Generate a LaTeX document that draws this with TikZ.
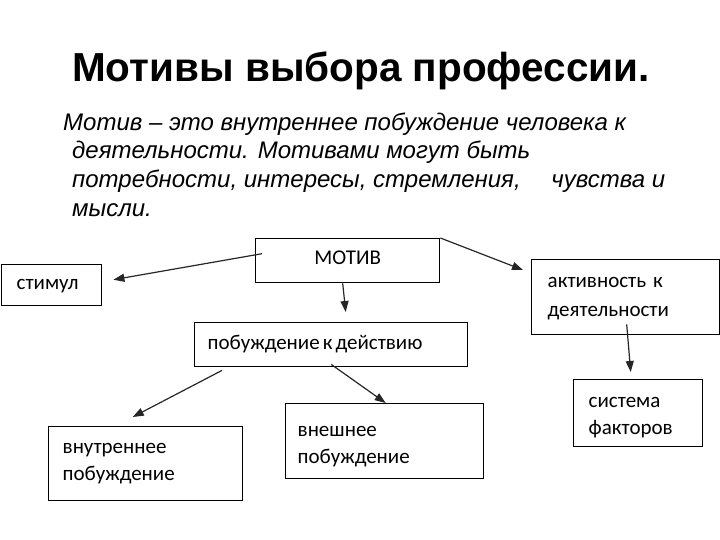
\documentclass[tikz,border=0pt]{standalone}
\usepackage{fontspec}
\setmainfont{Liberation Sans}
\newfontfamily\boxfont{Carlito}
\usetikzlibrary{arrows.meta}

\tikzset{
  box/.style={draw, line width=1.4pt, anchor=north west, inner xsep=13pt, inner ysep=0pt,
    align=left, font=\boxfont\fontsize{21}{27}\selectfont},
  up/.style={text height=#1, text depth=0pt},
  down/.style={text height=0pt, text depth=#1},
  arr/.style={draw=black!85, line width=1.2pt, -{Triangle[length=11pt,width=8pt]}},
  line/.style={anchor=base west, inner sep=0pt, font=\itshape\fontsize{24}{28}\selectfont}
}

\begin{document}
\begin{tikzpicture}[x=1pt, y=-1pt]
				\useasboundingbox (0,0) rectangle (720,540);
				% заголовок и определение
				\node (title) at (361,71) {\fontsize{40.5}{46}\selectfont\bfseries Мотивы выбора профессии.};
				\node (l1) [line] at (63,131) {Мотив – это внутреннее побуждение человека к};
				\node (l2) [line] at (72,159) {деятельности. Мотивами могут быть};
				\node (l3) [line] at (72,188) {потребности, интересы, стремления,\quad\ чувства и};
				\node (l4) [line] at (72,216) {мысли.};

				% блоки схемы
				\node (motiv) [box, up=7.6pt, minimum width=184pt, minimum height=44pt, text width=158pt, align=center] at (255,238) {МОТИВ};
				\node (stimul) [box, up=8.8pt, minimum width=100pt, minimum height=41pt, text width=70pt, inner xsep=15pt] at (1,264) {стимул};
				\node (aktiv) [box, down=19.2pt, minimum width=188pt, minimum height=75pt, text width=156pt, inner xsep=16pt,
				  font=\boxfont\fontsize{21}{29}\selectfont] at (531,259) {активность к\\деятельности};
				\node (pobuzh) [box, up=9.8pt, minimum width=273pt, minimum height=44pt, text width=247pt] at (194,322) {побуждение\hspace{3pt}к\hspace{3pt}действию};
				\node (sistema) [box, down=11.2pt, minimum width=129pt, minimum height=67pt, text width=99pt, inner xsep=15pt] at (573,379) {система\\факторов};
				\node (vnesh) [box, down=9.2pt, minimum width=198pt, minimum height=75pt, text width=174pt, inner xsep=12pt] at (285,403) {внешнее\\побуждение};
				\node (vnutr) [box, down=20.2pt, minimum width=194pt, minimum height=74pt, text width=166pt, inner xsep=14pt] at (48,426) {внутреннее\\побуждение};

				% стрелки
				\draw [arr] ([shift={(7pt,7pt)}]motiv.west) -- ([shift={(11pt,5.5pt)}]stimul.east);
				\draw [arr] ([xshift=-5pt]motiv.south) -- ([shift={(14.5pt,10pt)}]pobuzh.north);
				\draw [arr] (motiv.north east) -- ([shift={(-8pt,-11pt)}]aktiv.north west);
				\draw [arr] ([shift={(1pt,11pt)}]aktiv.south) -- ([shift={(-7.5pt,7pt)}]sistema.north);
				\draw [arr] ([shift={(28pt,-3pt)}]pobuzh.south west) -- ([shift={(-13pt,9pt)}]vnutr.north);
				\draw [arr] ([yshift=3pt]pobuzh.south) -- ([xshift=1pt]vnesh.north);
\end{tikzpicture}
\end{document}
